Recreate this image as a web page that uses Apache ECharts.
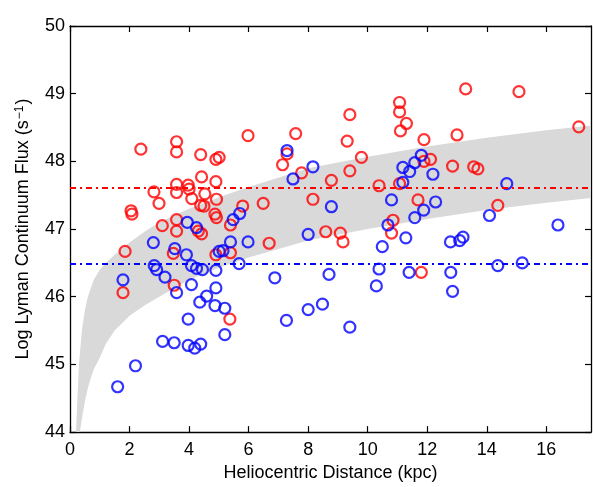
<!DOCTYPE html>
<html>
<head>
<meta charset="utf-8">
<script src="https://cdn.jsdelivr.net/npm/echarts@6/dist/echarts.min.js"></script>
<style>html,body{margin:0;padding:0;background:#fff}#c{width:593px;height:487px}</style>
</head>
<body>
<div id="c"></div>
<script>
// Tick labels
const xTicks = [0, 2, 4, 6, 8, 10, 12, 14, 16];
const yTicks = [44, 45, 46, 47, 48, 49, 50];

// Red sources: distance (kpc), log flux
const redDist = [
  1.85, 1.78, 2.38, 3.58, 3.58, 4.39, 2.82, 2.99, 3.58, 3.58,
  3.97, 4.00, 4.09, 4.42, 2.05, 2.08, 3.10, 3.58, 3.58, 4.31,
  4.42, 4.39, 4.50, 3.47, 3.50, 4.90, 5.01, 4.90, 4.53, 4.92,
  4.87, 4.92, 5.39, 5.80, 6.49, 6.69, 5.98, 7.58, 7.14, 7.29,
  7.78, 8.16, 4.90, 5.39, 5.37, 11.07, 11.07, 11.30, 11.10, 9.40,
  9.31, 9.79, 9.40, 11.89, 12.11, 11.89, 12.85, 8.78, 10.38, 11.07,
  11.69, 8.59, 9.08, 9.17, 10.85, 10.80, 11.80, 13.29, 15.08, 17.09,
  13.00, 13.56, 13.70, 14.37
];
const redFlux = [
  46.67, 46.06, 48.18, 48.29, 48.14, 48.10, 47.55, 47.38, 47.66, 47.54,
  47.65, 47.59, 47.45, 47.77, 47.27, 47.22, 47.05, 47.14, 46.97, 46.97,
  46.93, 47.35, 47.34, 46.64, 46.17, 48.03, 48.06, 47.70, 47.52, 47.44,
  47.22, 47.17, 47.06, 47.34, 47.38, 46.79, 48.38, 48.41, 47.95, 48.11,
  47.83, 47.44, 46.62, 46.65, 45.67, 48.87, 48.73, 48.56, 48.45, 48.69,
  48.30, 48.06, 47.86, 48.32, 48.03, 48.00, 47.93, 47.72, 47.64, 47.67,
  47.43, 46.96, 46.94, 46.81, 47.13, 46.94, 46.36, 49.07, 49.03, 48.51,
  48.39, 47.92, 47.89, 47.35
];

// Blue sources
const blueDist = [
  1.78, 1.60, 2.20, 3.94, 4.25, 2.80, 3.52, 3.91, 2.83, 2.91,
  3.19, 4.08, 4.25, 4.45, 4.90, 5.68, 3.58, 4.08, 4.36, 4.59,
  4.90, 4.87, 5.20, 3.97, 5.20, 3.11, 3.50, 3.97, 4.19, 4.39,
  5.01, 5.14, 5.39, 5.98, 5.48, 5.70, 6.88, 7.29, 7.49, 8.16,
  8.00, 7.27, 8.00, 8.48, 9.40, 8.70, 8.78, 11.18, 11.41, 11.58,
  11.80, 12.19, 11.18, 10.80, 12.28, 11.88, 11.58, 10.68, 11.28, 10.49,
  10.38, 10.29, 11.39, 12.79, 12.85, 14.67, 14.09, 16.39, 12.78, 13.09,
  13.20, 14.37, 15.19
];
const blueFlux = [
  46.25, 44.67, 44.98, 47.10, 47.02, 46.80, 46.71, 46.62, 46.46, 46.40,
  46.29, 46.46, 46.42, 46.40, 46.39, 46.49, 46.06, 46.18, 45.92, 46.01,
  46.13, 45.87, 45.83, 45.67, 45.44, 45.34, 45.32, 45.28, 45.24, 45.30,
  46.67, 46.68, 46.81, 46.81, 47.14, 47.23, 46.28, 48.16, 47.74, 47.92,
  46.92, 45.65, 45.81, 45.89, 45.55, 46.33, 47.33, 47.91, 47.85, 47.98,
  48.09, 47.81, 47.69, 47.43, 47.40, 47.28, 47.17, 47.06, 46.87, 46.74,
  46.41, 46.16, 46.36, 46.36, 46.08, 47.67, 47.20, 47.06, 46.81, 46.83,
  46.88, 46.46, 46.50
];

// Threshold lines
const redLevel = 47.61;
const blueLevel = 46.49;

// Gray band
const bandDist = [0.2, 0.25, 0.3, 0.33, 0.4, 0.5, 0.6, 0.7, 0.8, 1.0, 1.2, 1.5, 2, 2.5, 3, 4, 5, 6, 8, 10, 12, 14, 16, 17.5];
const bandHigh = [44.0, 44.5, 45.0, 45.15, 45.5, 45.8, 46.0, 46.13, 46.25, 46.4, 46.5, 46.62, 46.8, 46.96, 47.1, 47.3, 47.47, 47.62, 47.9, 48.07, 48.22, 48.35, 48.46, 48.53];
const bandLow  = [43.4, 43.7, 43.9, 44.0, 44.2, 44.45, 44.65, 44.8, 44.93, 45.1, 45.3, 45.5, 45.72, 45.87, 46.0, 46.25, 46.43, 46.58, 46.83, 47.0, 47.15, 47.28, 47.39, 47.46];

const zip = (a, b) => a.map((v, i) => [v, b[i]]);
const FONT = 'Liberation Sans, Arial, Helvetica, sans-serif';

const chart = echarts.init(document.getElementById('c'), null, {renderer: 'canvas'});

const axisLine = {show: true, onZero: false, lineStyle: {color: '#000', width: 1.3}};
const tick = (vals) => ({show: true, inside: true, length: 6, lineStyle: {color: '#000', width: 1.2}, customValues: vals});

const circle = (color) => ({
  symbol: 'circle', symbolSize: 11,
  itemStyle: {color: 'rgba(0,0,0,0)', borderColor: color, borderWidth: 2.2}
});

function renderBand(params, api) {
  const upper = bandDist.map((d, i) => api.coord([d, bandHigh[i]]));
  const lower = bandDist.map((d, i) => api.coord([d, bandLow[i]])).reverse();
  const cs = params.coordSys;
  return {
    type: 'polygon',
    shape: {points: upper.concat(lower), smooth: 0},
    style: {fill: '#d9d9d9', stroke: null},
    clipPath: {type: 'rect', shape: {x: cs.x, y: cs.y, width: cs.width, height: cs.height}},
    silent: true
  };
}

chart.setOption({
  animation: false,
  grid: {left: 70, right: 2, top: 26, bottom: 49, containLabel: false},
  xAxis: [
    {
      type: 'value', min: 0, max: 17.5, position: 'bottom',
      axisLine, axisTick: tick(xTicks), splitLine: {show: false},
      axisLabel: {customValues: xTicks, color: '#000', fontSize: 18, fontFamily: FONT, margin: 9},
      name: 'Heliocentric Distance (kpc)', nameLocation: 'middle', nameGap: 16,
      nameTextStyle: {color: '#000', fontSize: 18, fontFamily: FONT}
    },
    {
      type: 'value', min: 0, max: 17.5, position: 'top',
      axisLine, axisTick: tick(xTicks), splitLine: {show: false},
      axisLabel: {show: false}
    }
  ],
  yAxis: [
    {
      type: 'value', min: 44, max: 50, interval: 1, position: 'left',
      axisLine, axisTick: tick(yTicks), splitLine: {show: false},
      axisLabel: {customValues: yTicks, color: '#000', fontSize: 18, fontFamily: FONT, margin: 5},
      name: 'Log Lyman Continuum Flux (s{sup|\u22121})', nameLocation: 'middle', nameGap: 31,
      nameTextStyle: {
        color: '#000', fontSize: 18, fontFamily: FONT,
        rich: {sup: {fontSize: 12, fontFamily: FONT, color: '#000', verticalAlign: 'top', lineHeight: 12, padding: [0, 1, 8, 1]}}
      }
    },
    {
      type: 'value', min: 44, max: 50, interval: 1, position: 'right',
      axisLine, axisTick: tick(yTicks), splitLine: {show: false},
      axisLabel: {show: false}
    }
  ],
  series: [
    {
      type: 'custom', renderItem: renderBand, data: [[bandDist[0], bandHigh[0]]],
      encode: {x: 0, y: 1}, clip: true, silent: true, z: 1
    },
    {
      type: 'line', data: [], symbol: 'none', z: 2,
      markLine: {silent: true, symbol: 'none', label: {show: false},
        lineStyle: {color: '#ff0000', width: 2, type: [6, 4, 2, 4]},
        data: [{yAxis: redLevel}]}
    },
    {
      type: 'line', data: [], symbol: 'none', z: 2,
      markLine: {silent: true, symbol: 'none', label: {show: false},
        lineStyle: {color: '#0000ff', width: 2, type: [6, 4, 2, 4]},
        data: [{yAxis: blueLevel}]}
    },
    Object.assign({type: 'scatter', data: zip(redDist, redFlux), z: 3}, circle('#ff0000')),
    Object.assign({type: 'scatter', data: zip(blueDist, blueFlux), z: 4}, circle('#0000ff'))
  ]
});
</script>
</body>
</html>
